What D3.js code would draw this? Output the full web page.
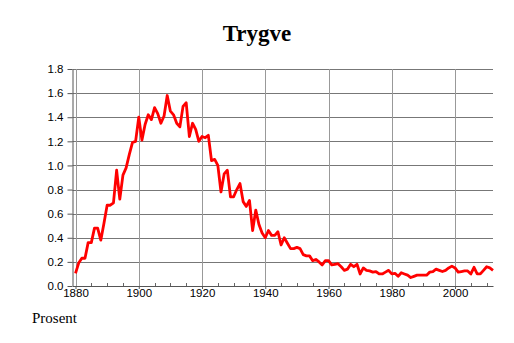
<!DOCTYPE html>
<html><head><meta charset="utf-8">
<script src="https://cdn.jsdelivr.net/npm/d3@7"></script>
<style>body{margin:0;background:#fff}svg{display:block}</style>
</head><body>
<script>
const startYear = 1880;
const values = [
 0.105,0.19,0.23,0.23,0.36,0.36,0.48,0.48,0.38,0.52,
 0.67,0.67,0.69,0.96,0.72,0.92,0.98,1.09,1.19,1.20,
 1.40,1.21,1.34,1.42,1.38,1.48,1.43,1.35,1.41,1.58,
 1.45,1.42,1.35,1.32,1.49,1.52,1.24,1.35,1.30,1.20,
 1.24,1.23,1.25,1.04,1.05,1.00,0.78,0.93,0.96,0.74,
 0.74,0.80,0.85,0.70,0.66,0.71,0.46,0.63,0.51,0.44,
 0.40,0.46,0.42,0.42,0.45,0.34,0.40,0.355,0.31,0.31,
 0.32,0.31,0.26,0.25,0.25,0.21,0.22,0.20,0.175,0.21,
 0.21,0.175,0.18,0.185,0.16,0.13,0.14,0.18,0.16,0.18,
 0.10,0.15,0.13,0.125,0.115,0.12,0.10,0.10,0.115,0.13,
 0.10,0.105,0.08,0.11,0.10,0.09,0.07,0.08,0.09,0.09,
 0.09,0.09,0.115,0.12,0.14,0.13,0.12,0.13,0.15,0.165,
 0.15,0.115,0.12,0.125,0.125,0.10,0.155,0.10,0.10,0.13,
 0.16,0.15,0.13
];
const years = values.map((v,i)=>startYear+i);
const yTicks = [0,0.2,0.4,0.6,0.8,1.0,1.2,1.4,1.6,1.8];
const xTicks = [1880,1900,1920,1940,1960,1980,2000];
const title = "Trygve";
const yLabel = "Prosent";

const W=514,H=343;
const L=72.5,R=493,T=69,B=286;
const svg=d3.select("body").append("svg").attr("width",W).attr("height",H);
const x=d3.scaleLinear().domain([1879.05,2012.0]).range([L,R]);
const y=d3.scaleLinear().domain([0,1.8]).range([B,T]);

// horizontal grid
svg.append("g").selectAll("line").data(yTicks.slice(1)).join("line")
  .attr("x1",L).attr("x2",R).attr("y1",d=>Math.round(y(d))+0.5).attr("y2",d=>Math.round(y(d))+0.5)
  .attr("stroke","#777").attr("stroke-width",1);
// vertical grid
svg.append("g").selectAll("line").data(xTicks).join("line")
  .attr("x1",d=>Math.round(x(d))+0.5).attr("x2",d=>Math.round(x(d))+0.5).attr("y1",T).attr("y2",B)
  .attr("stroke","#999").attr("stroke-width",1);

// y axis
const ya=svg.append("g").attr("transform",`translate(${L},0)`)
  .call(d3.axisLeft(y).tickValues(yTicks).tickFormat(d3.format(".1f")).tickSize(5).tickSizeOuter(0));
ya.select(".domain").attr("stroke","#555");
ya.selectAll(".tick line").attr("stroke","#555");
ya.selectAll("text").attr("font-family","Liberation Sans, Arial, sans-serif").attr("font-size",11.5).attr("fill","#000").attr("dx",-1);

// x axis minor ticks (inside)
const minor=d3.range(1885,2012,5).filter(d=>d%20!==0);
svg.append("g").selectAll("line").data(minor).join("line")
  .attr("x1",d=>Math.round(x(d))+0.5).attr("x2",d=>Math.round(x(d))+0.5).attr("y1",B-3).attr("y2",B)
  .attr("stroke","#666");
const xa=svg.append("g").attr("transform",`translate(0,${B})`)
  .call(d3.axisBottom(x).tickValues(xTicks).tickFormat(d3.format("d")).tickSize(3).tickSizeOuter(0));
xa.select(".domain").attr("stroke","#555");
xa.selectAll(".tick line").attr("stroke","#555");
xa.selectAll("text").attr("font-family","Liberation Sans, Arial, sans-serif").attr("font-size",11.5).attr("fill","#000").attr("dy","0.45em");

// line
svg.append("path").datum(values)
  .attr("fill","none").attr("stroke","#ff0000").attr("stroke-width",2.8).attr("stroke-linejoin","round")
  .attr("d",d3.line().x((d,i)=>x(years[i])).y(d=>y(d)));

svg.append("text").attr("x",257).attr("y",41).attr("text-anchor","middle")
  .attr("font-family","Liberation Serif, Times New Roman, serif").attr("font-weight","bold").attr("font-size",23)
  .text(title);
svg.append("text").attr("x",32).attr("y",323)
  .attr("font-family","Liberation Serif, Times New Roman, serif").attr("font-size",15)
  .text(yLabel);
</script>
</body></html>
